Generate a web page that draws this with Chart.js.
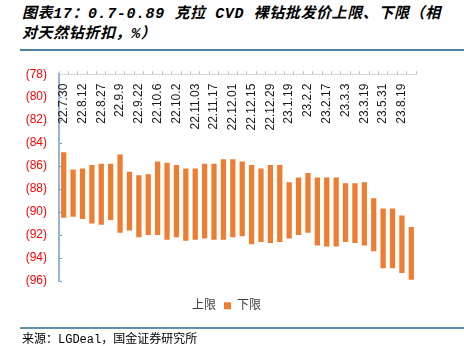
<!DOCTYPE html>
<html>
<head>
<meta charset="utf-8">
<script src="https://cdn.jsdelivr.net/npm/chart.js@4/dist/chart.umd.min.js"></script>
<style>
  html, body { margin: 0; padding: 0; background: #fff; }
  body { width: 464px; height: 346px; position: relative; overflow: hidden; }
  .title {
    position: absolute; left: 22px; top: 5px;
    font: italic bold 15px/20px 'Liberation Mono', 'Noto Sans CJK SC', monospace;
    letter-spacing: 0.6px; color: #000; white-space: nowrap;
  }
  .rule { position: absolute; left: 20px; right: 0; height: 2px; }
  .rule.top { top: 49px; background: #4f7f9e; }
  .rule.bottom { top: 327px; background: #6490ad; }
  .source {
    position: absolute; left: 22px; top: 333px;
    font: 12px/14px 'Liberation Mono', 'Noto Sans CJK SC', monospace; color: #000;
  }
  #chart-wrap { position: absolute; left: 0; top: 52px; width: 464px; height: 280px; }
</style>
</head>
<body>
<div class="title">图表17：0.7-0.89 克拉 CVD 裸钻批发价上限、下限（相<br>对天然钻折扣，%）</div>
<div class="rule top"></div>
<div id="chart-wrap"><canvas id="priceChart"></canvas></div>
<div class="rule bottom"></div>
<div class="source">来源：LGDeal，国金证券研究所</div>

<script>
// every other category carries a date label
const dateLabels = ['22.7.30', '22.8.12', '22.8.27', '22.9.9', '22.9.22', '22.10.6', '22.10.2',
    '22.11.03', '22.11.17', '22.12.01', '22.12.15', '22.12.29', '23.1.19', '23.2.2',
    '23.2.17', '23.3.3', '23.3.19', '23.5.31', '23.8.19'];

// discount vs natural diamonds, % (negative)
const upperLimit = [-84.8, -86.3, -86.2, -85.9, -85.8, -85.8, -85.0, -86.5, -86.8, -86.7,
    -85.6, -85.7, -85.9, -86.2, -86.2, -85.8, -85.8, -85.4, -85.4, -85.6,
    -85.9, -86.2, -85.9, -85.9, -87.4, -87.0, -86.6, -87.0, -87.0, -87.0,
    -87.5, -87.5, -87.4, -88.8, -89.7, -89.7, -90.3, -91.3];
const lowerLimit = [-90.5, -90.4, -90.6, -91.0, -91.1, -90.7, -91.8, -91.6, -92.2, -92.0,
    -92.0, -92.4, -92.2, -92.5, -92.4, -92.3, -92.4, -92.4, -92.2, -92.1,
    -92.8, -92.6, -92.7, -92.6, -92.3, -92.0, -91.8, -92.9, -93.0, -93.0,
    -92.6, -92.7, -92.9, -93.4, -94.9, -94.9, -95.3, -95.9];

const yMin = -96;
const yMax = -78;
const yStep = 2;

const categories = [];
dateLabels.forEach((d, i) => {
    categories.push(d);
    if (i < dateLabels.length - 1) categories.push('');
});
categories.push('');

Chart.defaults.font.family = "'Liberation Sans', 'Noto Sans CJK SC', sans-serif";
Chart.defaults.font.size = 12;

// rotated date labels hanging just under the top axis
const dateLabelPlugin = {
    id: 'dateLabels',
    afterDatasetsDraw(chart) {
        const { ctx, chartArea, scales: { x } } = chart;
        ctx.save();
        ctx.font = "12px 'Liberation Sans', sans-serif";
        ctx.fillStyle = '#1a1a1a';
        ctx.textAlign = 'right';
        ctx.textBaseline = 'middle';
        categories.forEach((label, i) => {
            if (!label) return;
            ctx.save();
            ctx.translate(x.getPixelForValue(i), chartArea.top + 9.5);
            ctx.rotate(-Math.PI / 2);
            ctx.fillText(label, 0, 0);
            ctx.restore();
        });
        ctx.restore();
    }
};

const ctx = document.getElementById('priceChart').getContext('2d');
new Chart(ctx, {
    type: 'bar',
    data: {
        labels: categories,
        datasets: [
            {
                label: '上限',
                data: upperLimit,
                backgroundColor: 'rgba(0,0,0,0)',
                borderWidth: 0,
                grouped: false,
                barPercentage: 0.56,
                categoryPercentage: 1
            },
            {
                label: '下限',
                data: upperLimit.map((u, i) => [u, lowerLimit[i]]),
                backgroundColor: '#ED7D31',
                borderWidth: 0,
                grouped: false,
                barPercentage: 0.56,
                categoryPercentage: 1
            }
        ]
    },
    options: {
        responsive: true,
        maintainAspectRatio: false,
        animation: false,
        layout: { padding: { left: 24, right: 48, top: 10, bottom: 10.3 } },
        plugins: {
            tooltip: { enabled: false },
            legend: {
                position: 'bottom',
                title: { display: true, text: '', font: { size: 1 }, padding: { top: 9.5, bottom: 0 } },
                labels: {
                    boxWidth: 7,
                    boxHeight: 7,
                    padding: 8,
                    color: '#404040',
                    font: { size: 12 }
                }
            }
        },
        scales: {
            x: {
                position: 'top',
                grid: {
                    offset: true,
                    drawOnChartArea: false,
                    drawTicks: true,
                    tickLength: 3,
                    tickColor: '#bfbfbf'
                },
                border: { color: '#d9d9d9', width: 1 },
                ticks: { display: false }
            },
            y: {
                min: yMin,
                max: yMax,
                afterFit(scale) { scale.width = 35; },
                grid: {
                    drawOnChartArea: false,
                    drawTicks: true,
                    tickLength: -3,
                    tickColor: '#6f9bd0'
                },
                border: { color: '#95b5dc', width: 2 },
                ticks: {
                    stepSize: yStep,
                    padding: 15,
                    color: '#ff0000',
                    font: { size: 12 },
                    callback: v => '(' + Math.abs(v) + ')'
                }
            }
        }
    },
    plugins: [dateLabelPlugin]
});
</script>
</body>
</html>
